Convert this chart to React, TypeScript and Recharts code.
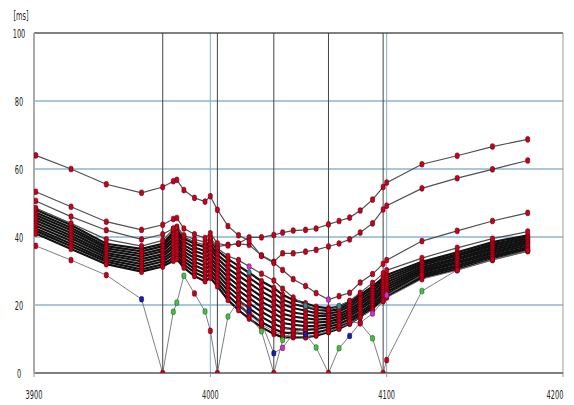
import React from "react";
import { LineChart, Line, XAxis, YAxis, ReferenceLine } from "recharts";

// sample positions shared by every series
const xs = [3901, 3921, 3941, 3961, 3973, 3979, 3981, 3985, 3991, 3997, 4000, 4004, 4010, 4016, 4022, 4029, 4036, 4041, 4047, 4054, 4060, 4067, 4073, 4079, 4085, 4092, 4098, 4100, 4120, 4140, 4160, 4180];

// upper, separate lines
const lineA = [64, 60, 55.5, 53, 54.7, 56.4, 56.8, 53.8, 51.5, 50.4, 52, 48, 43.2, 40.5, 38.9, 34.4, 32.4, 30.3, 27.6, 25.6, 23.5, 21.6, 22.6, 23.6, 26.6, 29.1, 32.1, 33.2, 38.8, 41.8, 44.7, 47.1];
const lineB = [53.3, 48.9, 44.5, 42.1, 43.6, 45.3, 45.6, 42.5, 40.8, 39.7, 41.1, 38.1, 37.5, 38.1, 39.9, 39.9, 40.6, 41.3, 41.9, 42.1, 42.5, 43.7, 44.7, 45.7, 47.8, 51, 54.7, 56, 61.4, 63.9, 66.6, 68.7];
const lineC = [50.6, 46, 42, 39.3, 40.8, 42.5, 43, 40.5, 39.3, 38.5, 39.8, 37.2, 37.7, 38, 37.7, 34.6, 32.7, 35.2, 35.2, 35.7, 36.2, 37.2, 38.1, 39.3, 41.3, 44, 48.1, 49.2, 54.3, 57.3, 59.9, 62.5];
const lineD = [48.5, 44, 39.3, 37.3, 39, 42.3, 42.8, 40, 38.6, 37.6, 39.1, 36.7, 34.4, 33.2, 31.3, 29.2, 27.2, 24.8, 22.2, 19.8, 18.8, 18.6, 19.7, 21.2, 23.6, 26.5, 29.3, 30.2, 33.8, 36.8, 39.5, 41.6];

// dense bundle
const band0 = [48, 43.5, 38, 36.5, 38, 41.5, 42, 39.5, 38, 37, 39, 36, 33.5, 31.5, 29.5, 27, 25, 23, 21.5, 20.5, 19.5, 19, 19.5, 21, 23, 25.5, 28, 28.8, 32.7, 35.5, 38.5, 40.5];
const band1 = [47.2, 42.7, 37.3, 35.8, 37.3, 40.6, 41.1, 38.6, 36.9, 35.9, 37.8, 34.8, 32.2, 30.1, 28, 25.5, 23.5, 21.6, 20.3, 19.4, 18.6, 18.2, 18.8, 20.3, 22.3, 24.8, 27.3, 28.1, 32.2, 34.9, 37.9, 40];
const band2 = [46.5, 42, 36.7, 35, 36.5, 39.6, 40.1, 37.6, 35.9, 34.8, 36.6, 33.7, 30.8, 28.6, 26.5, 24, 22, 20.2, 19.1, 18.3, 17.6, 17.4, 18.1, 19.6, 21.6, 24.1, 26.6, 27.4, 31.7, 34.4, 37.4, 39.5];
const band3 = [45.7, 41.2, 36, 34.3, 35.8, 38.7, 39.2, 36.7, 34.8, 33.7, 35.3, 32.5, 29.5, 27.2, 25, 22.5, 20.5, 18.8, 17.8, 17.2, 16.7, 16.7, 17.3, 18.8, 20.8, 23.3, 25.8, 26.7, 31.1, 33.8, 36.8, 39];
const band4 = [44.9, 40.4, 35.3, 33.5, 35, 37.7, 38.2, 35.7, 33.8, 32.6, 34.1, 31.3, 28.2, 25.7, 23.5, 21, 19, 17.4, 16.6, 16.1, 15.7, 15.9, 16.6, 18.1, 20.1, 22.6, 25.1, 26, 30.6, 33.3, 36.3, 38.5];
const band5 = [44.1, 39.6, 34.7, 32.8, 34.3, 36.8, 37.3, 34.8, 32.7, 31.4, 32.9, 30.2, 26.8, 24.3, 22, 19.5, 17.5, 16.1, 15.4, 14.9, 14.8, 15.1, 15.9, 17.4, 19.4, 21.9, 24.4, 25.3, 30.1, 32.7, 35.7, 38];
const band6 = [43.3, 38.8, 34, 32, 33.5, 35.8, 36.3, 33.8, 31.7, 30.3, 31.7, 29, 25.5, 22.8, 20.5, 18, 16, 14.7, 14.2, 13.8, 13.8, 14.3, 15.2, 16.7, 18.7, 21.2, 23.7, 24.6, 29.6, 32.2, 35.2, 37.5];
const band7 = [42.5, 38, 33.3, 31.3, 32.8, 34.9, 35.4, 32.9, 30.6, 29.2, 30.4, 27.8, 24.2, 21.4, 19, 16.5, 14.5, 13.3, 12.9, 12.7, 12.9, 13.6, 14.4, 15.9, 17.9, 20.4, 22.9, 23.9, 29, 31.6, 34.6, 37];
const band8 = [41.8, 37.3, 32.7, 30.5, 32, 33.9, 34.4, 31.9, 29.6, 28.1, 29.2, 26.7, 22.8, 19.9, 17.5, 15, 13, 11.9, 11.7, 11.6, 11.9, 12.8, 13.7, 15.2, 17.2, 19.7, 22.2, 23.2, 28.5, 31.1, 34.1, 36.5];
const band9 = [41, 36.5, 32, 29.8, 31.3, 33, 33.5, 31, 28.5, 27, 28, 25.5, 21.5, 18.5, 16, 13.5, 11.5, 10.5, 10.5, 10.5, 11, 12, 13, 14.5, 16.5, 19, 21.5, 22.5, 28, 30.5, 33.5, 36];

// lines that drop to zero
const dipF = [37.4, 33.2, 28.8, 21.7, 0, 18, 20.7, 28.6, 23.4, 18.1, 12.4, 0, 16.6, 21.2, 17.2, 14.2, 12.2, 11.2, 10.8, 10.6, 11.2, 12.2, 13.2, 14.6, 16.4, 18.6, 21.2, 22.2, 27.6, 30.2, 33.2, 35.8];
const dipH = [null, null, null, null, null, null, null, null, null, null, null, null, null, 20.5, 16.5, 12.3, 0, 9.7, 12.4, 12.8, null, null, null, null, null, null, null, null, null, null, null, null];
const dipK = [null, null, null, null, null, null, null, null, null, null, null, null, null, 22, 18.4, 14.8, 5.8, 7.4, 11.6, 12.2, null, null, null, null, null, null, null, null, null, null, null, null];
const dipI = [null, null, null, null, null, null, null, null, null, null, null, null, null, null, null, null, null, 13.2, 12.6, 11.4, 7.5, 0, 7.3, 10.9, 14.8, 17.5, 21.2, 22.9, 28.8, null, null, null];
const dipJ = [null, null, null, null, null, null, null, null, null, null, null, null, null, null, null, null, null, null, null, null, null, null, 14, 15.2, 14.6, 10.2, 0, 3.8, 24.1, 30.3, 33.4, 36];

const xTicks = [3900, 4000, 4100, 4200];
const yTicks = [0, 20, 40, 60, 80, 100];
const gridY = [20, 40, 60, 80];
const gridX = [4000, 4100];
const dropX = [3973, 4004, 4036, 4067, 4098];

const bundleSeries = [band0, band1, band2, band3, band4, band5, band6, band7, band8, band9];

const series = [
  ...bundleSeries.map((v, i) => ({ key: "E" + i, values: v, kind: "bundle" })),
  { key: "D", values: lineD, kind: "upper" },
  { key: "C", values: lineC, kind: "upper" },
  { key: "B", values: lineB, kind: "upper" },
  { key: "A", values: lineA, kind: "upper" },
  { key: "F", values: dipF, kind: "dip" },
  { key: "H", values: dipH, kind: "dip" },
  { key: "K", values: dipK, kind: "dip" },
  { key: "I", values: dipI, kind: "dip" },
  { key: "J", values: dipJ, kind: "dip" },
];

const data = xs.map((x, i) => {
  const row: Record<string, number | null> = { x };
  series.forEach((s) => {
    row[s.key] = s.values[i] ?? null;
  });
  return row;
});

const palette: Record<string, [string, string]> = {
  red: ["#c8001e", "#5a0008"],
  blue: ["#1c1cb0", "#0a0a50"],
  green: ["#44c044", "#1b5e1b"],
  magenta: ["#d030d0", "#6a106a"],
  teal: ["#2a9090", "#0f4040"],
};

const markerColors: Record<string, string> = {
  "F:3": "blue", "F:5": "green", "F:6": "green", "F:7": "green", "F:9": "green", "F:12": "green",
  "H:15": "green", "H:17": "green",
  "K:14": "blue", "K:16": "blue", "K:17": "magenta",
  "I:19": "blue", "I:20": "green", "I:22": "green", "I:23": "blue", "I:24": "blue", "I:25": "magenta", "I:27": "magenta",
  "J:25": "green", "J:28": "green",
  "A:21": "magenta", "D:14": "magenta", "D:19": "teal", "D:22": "teal", "E0:14": "teal",
};

const font = "'Liberation Sans Narrow', 'Arial Narrow', 'DejaVu Sans Condensed', sans-serif";

function makeDot(key: string) {
  return (props: any) => {
    const { cx, cy, index, value } = props;
    if (value == null || cx == null || cy == null || Number.isNaN(cy)) return <g key={`${key}-${index}`} />;
    const [fill, stroke] = palette[markerColors[`${key}:${index}`] ?? "red"];
    return (
      <rect key={`${key}-${index}`} x={cx - 2} y={cy - 2.8} width={4} height={5.6} rx={1.6}
        fill={fill} stroke={stroke} strokeWidth={0.6} />
    );
  };
}

const YTick = (props: any) => {
  const v = String(props.payload.value);
  return (
    <text x={19} y={props.y} textAnchor="middle" dominantBaseline="central" fontSize={13}
      fontFamily={font} fill="#222" textLength={v.length * 4.2} lengthAdjust="spacingAndGlyphs">{v}</text>
  );
};

const XTick = (props: any) => {
  const v = String(props.payload.value);
  const w = v.length * 4.2;
  const x = Math.min(props.x, 555);
  return (
    <text x={x} y={395} textAnchor="middle" dominantBaseline="central" fontSize={12}
      fontFamily={font} fill="#222" textLength={w} lengthAdjust="spacingAndGlyphs">{v}</text>
  );
};

export default function App() {
  return (
    <div style={{ position: "absolute", left: 0, top: 0, width: 574, height: 405, background: "#fff" }}>
      <LineChart width={574} height={405} data={data} margin={{ top: 33, right: 11, bottom: 2, left: 0 }}>
        <XAxis type="number" dataKey="x" domain={[3900, 4200]} ticks={xTicks} height={30}
          axisLine={{ stroke: "#000" }} tickLine={{ stroke: "#999" }} tickSize={4} tick={<XTick />} allowDataOverflow />
        <YAxis type="number" domain={[0, 100]} ticks={yTicks} width={34}
          axisLine={{ stroke: "#aaa", strokeWidth: 2 }} tickLine={false} tick={<YTick />} allowDataOverflow />
        {gridY.map((v) => (
          <ReferenceLine key={"gy" + v} y={v} stroke="#4f8fbf" strokeWidth={1} />
        ))}
        {gridX.map((v) => (
          <ReferenceLine key={"gx" + v} x={v} stroke="#7fb0d0" strokeWidth={1} />
        ))}
        <ReferenceLine y={100} stroke="#000" strokeWidth={1} />
        <ReferenceLine x={4200} stroke="#999" strokeWidth={1} />
        {dropX.map((v) => (
          <ReferenceLine key={"dx" + v} x={v} stroke="#444" strokeWidth={1} />
        ))}
        {series.map((s) => (
          <Line key={s.key} dataKey={s.key} type="linear" isAnimationActive={false}
            stroke={s.kind === "bundle" ? "#111" : s.kind === "upper" ? "#505050" : "#707070"}
            strokeWidth={s.kind === "bundle" ? 2.2 : s.kind === "upper" ? 1.2 : 0.9}
            dot={makeDot(s.key)} activeDot={false} connectNulls={false} />
        ))}
      </LineChart>
      <svg width={40} height={30} style={{ position: "absolute", left: 0, top: 0 }}>
        <text x={21} y={16} textAnchor="middle" dominantBaseline="central" fontSize={12}
          fontFamily={font} fill="#222" textLength={15} lengthAdjust="spacingAndGlyphs">[ms]</text>
      </svg>
    </div>
  );
}
